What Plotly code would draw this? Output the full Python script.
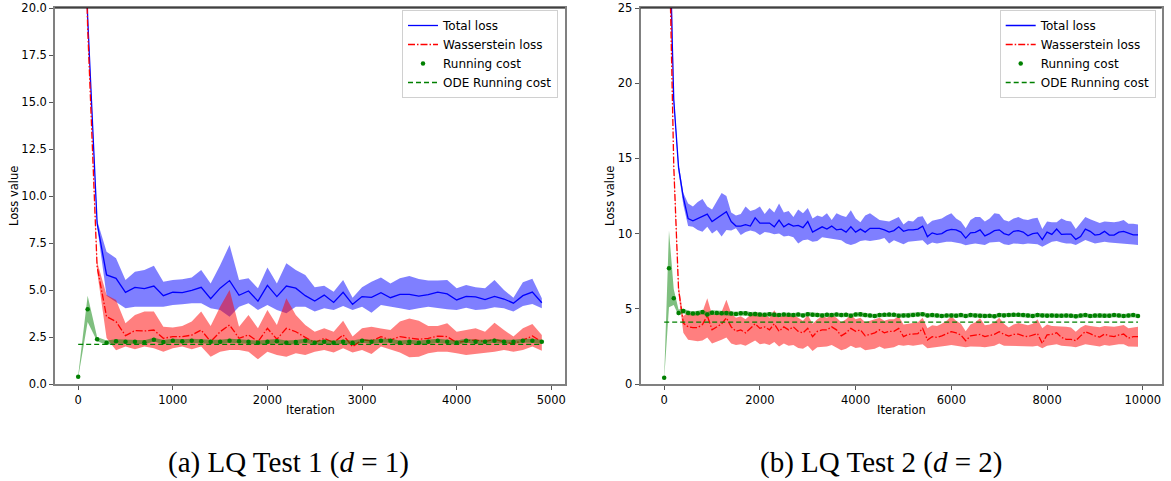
import plotly.graph_objects as go

# ---------------- data: panel (a) LQ Test 1 ----------------
iters1 = list(range(0, 5000, 100))

total1 = [40, 19.5, 8.55, 5.8, 5.62, 4.87, 5.14, 5.07, 5.21, 4.70,
          4.88, 4.86, 4.98, 5.14, 4.54, 5.10, 5.50, 4.72, 4.95, 4.41,
          5.25, 4.65, 5.21, 5.10, 4.70, 4.41, 4.73, 4.34, 4.88, 4.24,
          4.65, 4.61, 4.86, 4.59, 4.77, 4.77, 4.68, 4.75, 4.89, 4.79,
          4.47, 4.66, 4.63, 4.49, 4.66, 4.52, 4.30, 4.70, 4.89, 4.32]
total1_hi = [40, 19.6, 8.7, 7.04, 6.69, 5.53, 5.97, 6.06, 6.29, 5.44,
             5.53, 5.57, 5.67, 6.06, 5.35, 6.32, 7.39, 5.53, 5.62, 5.09,
             6.20, 5.35, 6.42, 6.06, 5.80, 5.14, 5.23, 4.91, 5.53, 4.59,
             5.14, 5.44, 5.67, 5.35, 5.62, 5.74, 5.59, 5.50, 5.50, 5.53,
             5.09, 5.27, 5.14, 5.09, 5.53, 5.00, 4.59, 5.41, 5.60, 4.56]
total1_lo = [40, 19.4, 8.4, 4.70, 4.38, 4.03, 4.11, 4.11, 4.11, 4.11,
             4.20, 4.24, 4.29, 4.29, 4.03, 3.94, 3.58, 4.11, 4.29, 3.94,
             4.20, 3.94, 3.76, 4.11, 4.11, 3.85, 4.03, 3.94, 4.15, 3.94,
             4.11, 3.79, 4.20, 4.11, 4.03, 3.94, 4.03, 4.11, 4.03, 3.97,
             3.94, 4.06, 3.94, 3.97, 4.08, 4.03, 3.85, 4.15, 4.26, 4.03]

wass1 = [40, 19.0, 6.24, 3.58, 3.32, 2.57, 2.84, 2.82, 2.87, 2.43,
         2.52, 2.52, 2.60, 2.87, 2.25, 2.78, 3.14, 2.43, 2.61, 2.25,
         2.96, 2.38, 2.96, 2.78, 2.48, 2.20, 2.43, 2.20, 2.61, 1.99,
         2.34, 2.29, 2.52, 2.34, 2.52, 2.46, 2.38, 2.43, 2.55, 2.52,
         2.20, 2.30, 2.34, 2.25, 2.38, 2.25, 2.13, 2.34, 2.55, 2.25]
wass1_hi = [40, 19.1, 6.5, 4.73, 4.47, 3.23, 3.67, 3.85, 3.85, 3.05,
            3.01, 3.09, 3.32, 3.85, 3.09, 4.11, 5.00, 3.05, 3.67, 2.96,
            3.94, 3.14, 4.56, 3.67, 3.14, 2.78, 2.96, 2.78, 3.37, 2.52,
            2.96, 3.05, 2.95, 2.87, 3.32, 3.49, 3.37, 3.09, 3.09, 3.23,
            2.78, 2.87, 2.96, 2.78, 3.26, 2.87, 2.52, 2.96, 3.19, 2.61]
wass1_lo = [40, 18.9, 6.0, 2.45, 1.80, 1.99, 1.85, 1.99, 1.90, 1.72,
            1.90, 1.99, 1.85, 1.99, 1.45, 1.72, 1.81, 1.81, 1.72, 1.31,
            1.72, 1.54, 1.45, 1.63, 1.54, 1.72, 1.81, 1.67, 1.90, 1.67,
            1.81, 1.60, 1.99, 1.81, 1.67, 1.42, 1.45, 1.63, 1.72, 1.72,
            1.63, 1.54, 1.60, 1.67, 1.72, 1.81, 1.72, 1.81, 1.99, 1.77]

run1 = [0.39, 3.97, 2.38, 2.20, 2.27, 2.25, 2.25, 2.22, 2.36, 2.23,
        2.30, 2.27, 2.30, 2.27, 2.25, 2.25, 2.30, 2.27, 2.25, 2.20,
        2.25, 2.28, 2.20, 2.23, 2.30, 2.20, 2.25, 2.20, 2.25, 2.20,
        2.30, 2.25, 2.30, 2.30, 2.20, 2.25, 2.20, 2.25, 2.30, 2.25,
        2.20, 2.30, 2.25, 2.25, 2.30, 2.25, 2.25, 2.30, 2.30, 2.25]
run1_hi = [0.45, 4.70, 2.50, 2.32, 2.38, 2.36, 2.36, 2.33, 2.46, 2.34,
           2.41, 2.38, 2.41, 2.38, 2.36, 2.36, 2.41, 2.38, 2.36, 2.31,
           2.36, 2.39, 2.31, 2.34, 2.41, 2.31, 2.36, 2.31, 2.36, 2.31,
           2.41, 2.36, 2.41, 2.41, 2.31, 2.36, 2.31, 2.36, 2.41, 2.36,
           2.31, 2.41, 2.36, 2.36, 2.41, 2.36, 2.36, 2.41, 2.41, 2.36]
run1_lo = [0.33, 3.30, 2.28, 2.09, 2.16, 2.14, 2.14, 2.11, 2.26, 2.12,
           2.19, 2.16, 2.19, 2.16, 2.14, 2.14, 2.19, 2.16, 2.14, 2.09,
           2.14, 2.17, 2.09, 2.12, 2.19, 2.09, 2.14, 2.09, 2.14, 2.09,
           2.19, 2.14, 2.19, 2.19, 2.09, 2.14, 2.09, 2.14, 2.19, 2.14,
           2.09, 2.19, 2.14, 2.14, 2.19, 2.14, 2.14, 2.19, 2.19, 2.14]

ode1_value = 2.11
ode1 = [ode1_value] * len(iters1)

# ---------------- data: panel (b) LQ Test 2 ----------------
iters2 = list(range(0, 10000, 100))

total2 = [60, 31, 18.9, 14.4, 12.4, 11.0, 10.85, 11.0, 11.1, 11.3,
          10.8, 11.0, 11.2, 11.45, 10.8, 10.5, 10.5, 10.6, 10.5, 11.05,
          10.7, 10.7, 10.7, 10.45, 10.9, 10.45, 10.65, 10.5, 10.55, 10.4,
          10.8, 10.1, 10.25, 10.45, 10.3, 10.5, 10.25, 10.3, 10.1, 10.45,
          10.1, 10.3, 10.1, 10.35, 10.35, 10.35, 10.25, 10.1, 10.2, 10.45,
          10.15, 10.25, 10.25, 10.3, 10.5, 9.8, 10.05, 9.95, 10.0, 10.2,
          10.28, 10.25, 10.1, 9.7, 10.05, 10.08, 10.25, 9.85, 10.0, 10.2,
          10.25, 10.0, 9.9, 10.15, 10.2, 10.1, 9.85, 10.0, 10.05, 9.6,
          10.1, 9.95, 10.3, 9.95, 9.97, 9.97, 9.62, 9.8, 10.3, 10.15,
          9.9, 9.95, 10.15, 9.9, 9.9, 10.1, 10.15, 10.05, 9.92, 9.92]
total2_hi = [60, 31.3, 19.2, 14.7, 12.7, 12.0, 11.8, 12.1, 12.3, 11.8,
             11.6, 12.2, 12.7, 12.5, 11.4, 11.2, 11.3, 11.8, 11.5, 11.6,
             11.8, 11.3, 11.7, 11.4, 12.0, 11.4, 11.5, 11.1, 11.6, 11.35,
             11.7, 11.0, 11.2, 11.1, 11.35, 10.9, 11.35, 11.2, 11.1, 11.55,
             11.0, 10.75, 11.2, 11.35, 11.1, 10.9, 10.85, 10.8, 10.95, 11.1,
             10.6, 10.85, 10.8, 11.1, 11.15, 10.6, 10.85, 10.9, 11.0, 11.2,
             11.35, 11.0, 10.8, 10.35, 10.9, 11.1, 11.1, 10.8, 11.0, 11.35,
             11.3, 10.9, 10.8, 11.0, 11.1, 10.95, 10.9, 11.0, 11.05, 10.3,
             10.8, 10.75, 10.75, 11.0, 10.85, 10.8, 10.3, 10.7, 11.1, 10.95,
             10.8, 10.7, 10.8, 10.75, 10.75, 10.8, 10.9, 10.65, 10.65, 10.6]
total2_lo = [60, 30.7, 18.6, 14.1, 11.9, 10.5, 10.45, 10.24, 10.13, 10.45,
             10.0, 10.24, 9.8, 10.24, 10.2, 10.35, 9.9, 10.1, 10.2, 10.13,
             9.9, 10.1, 10.05, 9.95, 10.0, 9.8, 9.85, 9.75, 9.35, 9.55,
             9.6, 9.45, 9.5, 9.75, 9.7, 9.65, 9.6, 9.55, 9.35, 9.25,
             9.35, 9.5, 9.55, 9.5, 9.55, 9.6, 9.7, 9.35, 9.55, 9.45,
             9.3, 9.45, 9.5, 9.5, 9.55, 9.25, 9.4, 9.35, 9.4, 9.45,
             9.45, 9.4, 9.35, 9.22, 9.3, 9.35, 9.3, 9.25, 9.4, 9.45,
             9.46, 9.3, 9.25, 9.35, 9.35, 9.3, 9.35, 9.32, 9.3, 9.13,
             9.3, 9.46, 9.5, 9.4, 9.35, 9.35, 9.25, 9.4, 9.57, 9.45,
             9.35, 9.4, 9.45, 9.4, 9.4, 9.35, 9.35, 9.3, 9.28, 9.25]

wass2 = [60, 30, 14.5, 6.3, 4.05, 3.8, 3.75, 3.75, 3.95, 4.55,
         3.6, 3.8, 4.0, 4.4, 3.8, 3.5, 3.6, 3.4, 3.7, 4.0,
         3.7, 3.8, 3.6, 4.0, 3.5, 3.8, 3.6, 3.8, 3.5, 3.4,
         3.7, 3.15, 3.5, 3.6, 3.6, 3.8, 3.6, 3.2, 3.4, 3.7,
         3.5, 3.6, 3.2, 3.3, 3.4, 3.6, 3.4, 3.5, 3.5, 3.7,
         3.15, 3.3, 3.3, 3.35, 3.7, 2.93, 3.15, 3.1, 3.2, 3.35,
         3.48, 3.4, 3.25, 2.88, 3.2, 3.25, 3.3, 3.15, 3.2, 3.3,
         3.48, 3.3, 3.19, 3.3, 3.32, 3.2, 3.15, 3.25, 3.35, 2.7,
         3.26, 3.3, 3.41, 3.1, 2.97, 2.97, 2.88, 3.2, 3.48, 3.35,
         3.2, 3.12, 3.32, 3.2, 3.15, 3.26, 3.32, 3.04, 3.15, 3.15]
wass2_hi = [60, 30.3, 14.8, 6.6, 4.5, 4.8, 4.6, 4.7, 4.8, 5.7,
            4.6, 4.7, 4.8, 5.6, 4.7, 4.4, 4.5, 4.3, 4.6, 4.8,
            4.6, 4.7, 4.4, 4.9, 4.4, 4.6, 4.5, 4.6, 4.4, 4.2,
            4.6, 4.0, 4.3, 4.5, 4.4, 4.6, 4.4, 4.1, 4.3, 4.6,
            4.3, 4.4, 4.1, 4.2, 4.3, 4.4, 4.2, 4.3, 4.3, 4.5,
            3.95, 4.0, 4.05, 4.1, 4.4, 3.7, 3.9, 3.85, 4.0, 4.2,
            4.5, 4.2, 4.0, 3.5, 3.95, 4.1, 4.37, 3.9, 3.95, 4.1,
            4.4, 4.0, 3.75, 3.95, 4.05, 3.95, 3.9, 4.0, 4.3, 3.7,
            3.95, 3.85, 3.85, 3.8, 3.8, 3.75, 3.48, 3.75, 3.92, 3.85,
            3.8, 3.78, 3.85, 3.81, 3.8, 3.85, 3.92, 3.7, 3.75, 3.81]
wass2_lo = [60, 29.7, 14.2, 6.0, 3.4, 2.95, 2.9, 2.85, 2.9, 3.1,
            2.7, 2.8, 2.95, 3.1, 2.7, 2.6, 2.65, 2.55, 2.7, 2.9,
            2.65, 2.7, 2.6, 2.8, 2.5, 2.7, 2.55, 2.6, 2.4, 2.35,
            2.55, 2.2, 2.45, 2.5, 2.5, 2.6, 2.45, 2.25, 2.35, 2.55,
            2.4, 2.45, 2.25, 2.3, 2.35, 2.5, 2.35, 2.4, 2.45, 2.6,
            2.55, 2.6, 2.55, 2.6, 2.65, 2.37, 2.45, 2.5, 2.5, 2.55,
            2.6, 2.55, 2.5, 2.45, 2.5, 2.5, 2.48, 2.45, 2.5, 2.55,
            2.7, 2.55, 2.5, 2.55, 2.55, 2.55, 2.5, 2.5, 2.55, 2.37,
            2.55, 2.6, 2.65, 2.55, 2.5, 2.5, 2.45, 2.55, 2.65, 2.6,
            2.55, 2.5, 2.6, 2.55, 2.6, 2.65, 2.65, 2.5, 2.5, 2.48]

run2 = [0.42, 7.69, 5.70, 4.72, 4.85, 4.72, 4.68, 4.70, 4.78, 4.62,
        4.74, 4.72, 4.70, 4.72, 4.68, 4.66, 4.70, 4.70, 4.64, 4.66,
        4.62, 4.60, 4.64, 4.60, 4.58, 4.62, 4.60, 4.58, 4.62, 4.56,
        4.64, 4.60, 4.58, 4.56, 4.60, 4.58, 4.62, 4.58, 4.60, 4.54,
        4.62, 4.64, 4.58, 4.56, 4.52, 4.58, 4.60, 4.62, 4.60, 4.54,
        4.56, 4.56, 4.58, 4.62, 4.64, 4.56, 4.58, 4.56, 4.52, 4.56,
        4.56, 4.54, 4.58, 4.52, 4.58, 4.56, 4.54, 4.52, 4.54, 4.50,
        4.58, 4.56, 4.58, 4.60, 4.60, 4.58, 4.56, 4.52, 4.58, 4.56,
        4.54, 4.56, 4.54, 4.54, 4.56, 4.54, 4.50, 4.56, 4.58, 4.52,
        4.56, 4.56, 4.54, 4.54, 4.58, 4.56, 4.52, 4.56, 4.58, 4.52]
run2_hi = [0.50, 10.2, 6.30, 4.95, 5.00, 4.88, 4.82, 4.85, 4.92, 4.78,
           4.90, 4.88, 4.86, 4.88, 4.84, 4.80, 4.84, 4.85, 4.78, 4.80,
           4.76, 4.74, 4.78, 4.74, 4.72, 4.76, 4.74, 4.72, 4.76, 4.70,
           4.78, 4.74, 4.72, 4.70, 4.74, 4.72, 4.76, 4.72, 4.74, 4.68,
           4.76, 4.78, 4.72, 4.70, 4.66, 4.72, 4.74, 4.76, 4.74, 4.68,
           4.70, 4.70, 4.72, 4.76, 4.78, 4.70, 4.72, 4.70, 4.66, 4.70,
           4.70, 4.68, 4.72, 4.66, 4.72, 4.70, 4.68, 4.66, 4.68, 4.64,
           4.72, 4.70, 4.72, 4.74, 4.74, 4.72, 4.70, 4.66, 4.72, 4.70,
           4.68, 4.70, 4.68, 4.68, 4.70, 4.68, 4.64, 4.70, 4.72, 4.66,
           4.70, 4.70, 4.68, 4.68, 4.72, 4.70, 4.66, 4.70, 4.72, 4.66]
run2_lo = [0.34, 5.10, 5.25, 4.55, 4.70, 4.57, 4.54, 4.56, 4.64, 4.48,
           4.60, 4.58, 4.56, 4.58, 4.54, 4.52, 4.56, 4.56, 4.50, 4.52,
           4.48, 4.46, 4.50, 4.46, 4.44, 4.48, 4.46, 4.44, 4.48, 4.42,
           4.50, 4.46, 4.44, 4.42, 4.46, 4.44, 4.48, 4.44, 4.46, 4.40,
           4.48, 4.50, 4.44, 4.42, 4.38, 4.44, 4.46, 4.48, 4.46, 4.40,
           4.42, 4.42, 4.44, 4.48, 4.50, 4.42, 4.44, 4.42, 4.38, 4.42,
           4.42, 4.40, 4.44, 4.38, 4.44, 4.42, 4.40, 4.38, 4.40, 4.36,
           4.44, 4.42, 4.44, 4.46, 4.46, 4.44, 4.42, 4.38, 4.44, 4.42,
           4.40, 4.42, 4.40, 4.40, 4.42, 4.40, 4.36, 4.42, 4.44, 4.38,
           4.42, 4.42, 4.40, 4.40, 4.44, 4.42, 4.38, 4.42, 4.44, 4.38]

ode2_value = 4.12
ode2 = [ode2_value] * len(iters2)

legend_labels = ["Total loss", "Wasserstein loss", "Running cost", "ODE Running cost"]
captions = ["(a) LQ Test 1 (<i>d</i> = 1)", "(b) LQ Test 2 (<i>d</i> = 2)"]
x_title = "Iteration"
y_title = "Loss value"

# ---------------- figure ----------------
W, H = 1171, 481

def PX(p):
    return p / W

def PY(p):
    return 1 - p / H

fig = go.Figure()

def band(x, hi, lo, color, xa, ya):
    fig.add_trace(go.Scatter(
        x=list(x) + list(x)[::-1], y=list(hi) + list(lo)[::-1],
        fill="toself", fillcolor=color, line=dict(width=0),
        mode="lines", hoverinfo="skip", showlegend=False,
        xaxis=xa, yaxis=ya))

def panel(x, tot, tot_hi, tot_lo, was, was_hi, was_lo, run, run_hi, run_lo, ode, xa, ya, leg):
    band(x, tot_hi, tot_lo, "rgba(0,0,255,0.5)", xa, ya)
    fig.add_trace(go.Scatter(x=x, y=tot, mode="lines", name=legend_labels[0],
                             line=dict(color="blue", width=1.3),
                             xaxis=xa, yaxis=ya, legend=leg))
    band(x, was_hi, was_lo, "rgba(255,0,0,0.5)", xa, ya)
    fig.add_trace(go.Scatter(x=x, y=was, mode="lines", name=legend_labels[1],
                             line=dict(color="red", width=1.3, dash="7px,2px,1.5px,2px"),
                             xaxis=xa, yaxis=ya, legend=leg))
    band(x, run_hi, run_lo, "rgba(0,128,0,0.5)", xa, ya)
    fig.add_trace(go.Scatter(x=x, y=run, mode="markers", name=legend_labels[2],
                             marker=dict(color="#008000", size=4.5),
                             xaxis=xa, yaxis=ya, legend=leg))
    fig.add_trace(go.Scatter(x=x, y=ode, mode="lines", name=legend_labels[3],
                             line=dict(color="#008000", width=1.3, dash="5px,3px"),
                             xaxis=xa, yaxis=ya, legend=leg))

panel(iters1, total1, total1_hi, total1_lo, wass1, wass1_hi, wass1_lo,
      run1, run1_hi, run1_lo, ode1, "x", "y", "legend")
panel(iters2, total2, total2_hi, total2_lo, wass2, wass2_hi, wass2_lo,
      run2, run2_hi, run2_lo, ode2, "x2", "y2", "legend2")

ydom = [PY(384), PY(8)]
x1dom = [PX(55), PX(565)]
x2dom = [PX(640.5), PX(1161.7)]

tickfont = dict(family="DejaVu Sans", size=11.5, color="black")
axis_common = dict(showline=True, linecolor="#808080", linewidth=1.5, mirror=True,
                   ticks="outside", ticklen=4, tickwidth=1, tickcolor="#555",
                   showgrid=False, zeroline=False, tickfont=tickfont, automargin=False,
                   ticklabeloverflow="allow")

legend_common = dict(yanchor="top", xanchor="right",
                     bgcolor="rgba(255,255,255,0.85)", bordercolor="#d0d0d0", borderwidth=1,
                     font=dict(family="DejaVu Sans", size=12, color="black"),
                     itemwidth=30, tracegroupgap=0)

fig.update_layout(
    template="none",
    width=W, height=H,
    margin=dict(l=0, r=0, t=0, b=0, autoexpand=False),
    paper_bgcolor="white", plot_bgcolor="white",
    xaxis=dict(domain=x1dom, anchor="y", range=[-245, 5145],
               tickvals=[0, 1000, 2000, 3000, 4000, 5000], tickformat="d", **axis_common),
    yaxis=dict(domain=ydom, anchor="x", range=[0, 20],
               tickvals=[0, 2.5, 5, 7.5, 10, 12.5, 15, 17.5, 20], tickformat=".1f", **axis_common),
    xaxis2=dict(domain=x2dom, anchor="y2", range=[-495, 10395],
                tickvals=[0, 2000, 4000, 6000, 8000, 10000], tickformat="d", **axis_common),
    yaxis2=dict(domain=ydom, anchor="x2", range=[0, 25],
                tickvals=[0, 5, 10, 15, 20, 25], tickformat="d", **axis_common),
    legend=dict(x=PX(558), y=PY(10), **legend_common),
    legend2=dict(x=PX(1155.7), y=PY(10), **legend_common),
)

# top spines drawn black
for dom in (x1dom, x2dom):
    fig.add_shape(type="line", xref="paper", yref="paper",
                  x0=dom[0], x1=dom[1], y0=ydom[1], y1=ydom[1],
                  line=dict(color="black", width=1.2))

annfont = dict(family="DejaVu Sans", size=11.5, color="black")
for dom in (x1dom, x2dom):
    fig.add_annotation(x=(dom[0] + dom[1]) / 2, y=PY(410), xref="paper", yref="paper",
                       text=x_title, showarrow=False, font=annfont,
                       xanchor="center", yanchor="middle")
for xpx in (14, 610):
    fig.add_annotation(x=PX(xpx), y=PY(196), xref="paper", yref="paper",
                       text=y_title, showarrow=False, font=annfont, textangle=-90,
                       xanchor="center", yanchor="middle")
for cx, cap in zip((288, 881), captions):
    fig.add_annotation(x=PX(cx), y=PY(462), xref="paper", yref="paper",
                       text=cap, showarrow=False,
                       font=dict(family="Liberation Serif", size=29, color="black"),
                       xanchor="center", yanchor="middle")

# the page body has a default 8px margin; remove it so the figure fills the window
fig.write_html("out.html", config={"displayModeBar": False},
               post_script="document.body.style.margin='0px';")
